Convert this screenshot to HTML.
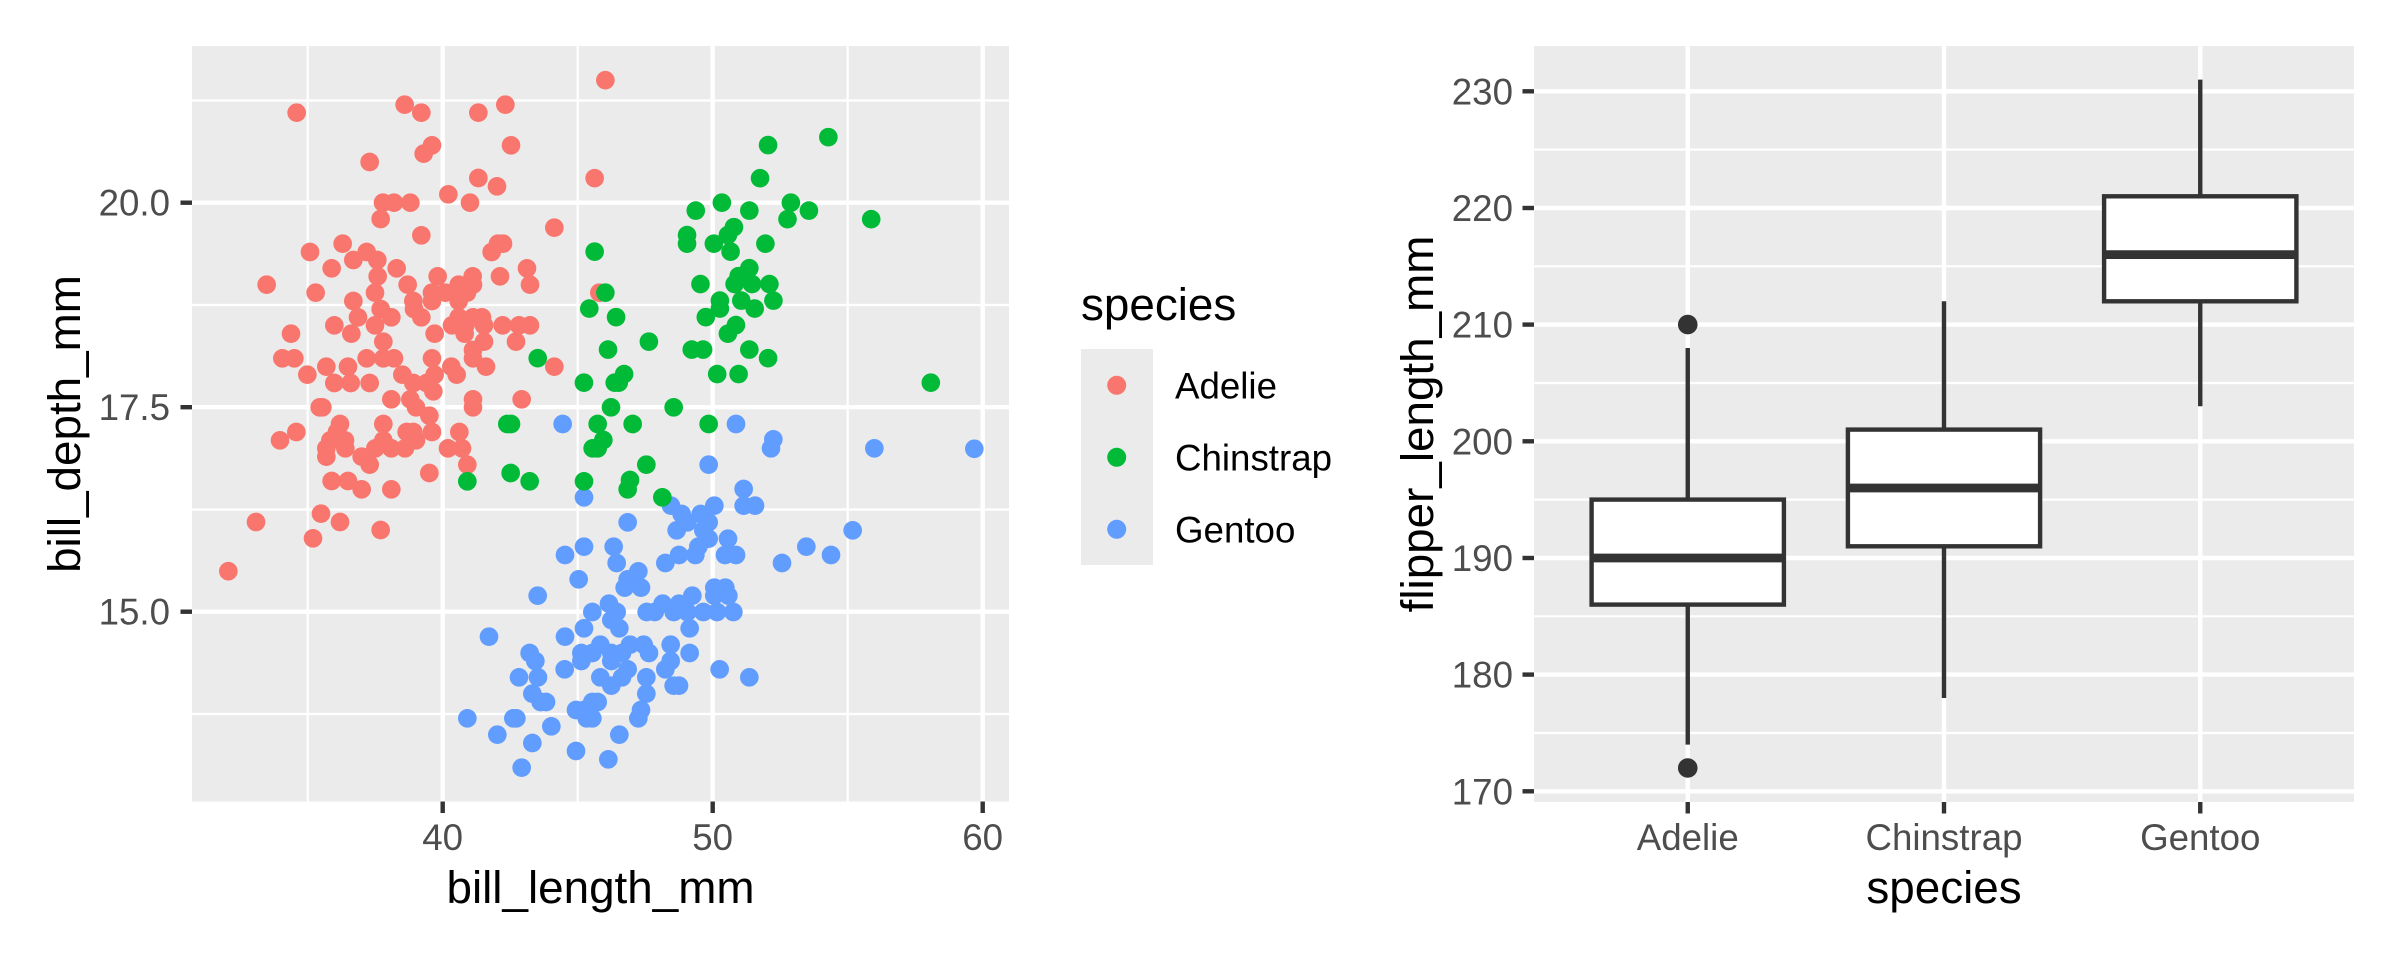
<!DOCTYPE html>
<html>
<head>
<meta charset="utf-8">
<style>
html,body{margin:0;padding:0;background:#ffffff;}
svg{display:block;}
text{font-family:"Liberation Sans",Arial,Helvetica,sans-serif;}
</style>
</head>
<body>
<svg xmlns="http://www.w3.org/2000/svg" width="2400" height="960" viewBox="0 0 2400 960">
<rect x="0" y="0" width="2400" height="960" fill="#ffffff"/>

<!-- ============ LEFT PANEL ============ -->
<rect x="192" y="46" width="817" height="755.5" fill="#EBEBEB"/>
<g stroke="#ffffff" stroke-width="2.2">
  <line x1="192" y1="100.5" x2="1009" y2="100.5"/>
  <line x1="192" y1="305" x2="1009" y2="305"/>
  <line x1="192" y1="509.5" x2="1009" y2="509.5"/>
  <line x1="192" y1="714" x2="1009" y2="714"/>
  <line x1="307.7" y1="46" x2="307.7" y2="801.5"/>
  <line x1="577.7" y1="46" x2="577.7" y2="801.5"/>
  <line x1="847.7" y1="46" x2="847.7" y2="801.5"/>
</g>
<g stroke="#ffffff" stroke-width="4.4">
  <line x1="192" y1="202.7" x2="1009" y2="202.7"/>
  <line x1="192" y1="407.2" x2="1009" y2="407.2"/>
  <line x1="192" y1="611.7" x2="1009" y2="611.7"/>
  <line x1="442.7" y1="46" x2="442.7" y2="801.5"/>
  <line x1="712.7" y1="46" x2="712.7" y2="801.5"/>
  <line x1="982.7" y1="46" x2="982.7" y2="801.5"/>
</g>

<!-- Adelie points (red) -->
<g fill="#F8766D" transform="translate(192,46) scale(0.333333)">
<circle cx="314" cy="200" r="28"/><circle cx="638" cy="176" r="28"/><circle cx="688" cy="200" r="28"/><circle cx="859" cy="200" r="28"/><circle cx="940" cy="176" r="28"/>
<circle cx="720" cy="298" r="28"/><circle cx="695" cy="323" r="28"/><circle cx="957" cy="298" r="28"/><circle cx="533" cy="348" r="28"/><circle cx="859" cy="396" r="28"/>
<circle cx="915" cy="421" r="28"/><circle cx="769" cy="445" r="28"/><circle cx="834" cy="470" r="28"/><circle cx="573" cy="470" r="28"/><circle cx="606" cy="470" r="28"/>
<circle cx="655" cy="470" r="28"/><circle cx="566" cy="519" r="28"/><circle cx="1087" cy="545" r="28"/><circle cx="688" cy="568" r="28"/><circle cx="452" cy="593" r="28"/>
<circle cx="354" cy="618" r="28"/><circle cx="524" cy="618" r="28"/><circle cx="918" cy="593" r="28"/><circle cx="933" cy="593" r="28"/><circle cx="899" cy="618" r="28"/>
<circle cx="484" cy="642" r="28"/><circle cx="556" cy="642" r="28"/><circle cx="419" cy="667" r="28"/><circle cx="614" cy="667" r="28"/><circle cx="1005" cy="667" r="28"/>
<circle cx="224" cy="716" r="28"/><circle cx="557" cy="691" r="28"/><circle cx="737" cy="691" r="28"/><circle cx="842" cy="691" r="28"/><circle cx="924" cy="691" r="28"/>
<circle cx="1014" cy="716" r="28"/><circle cx="647" cy="716" r="28"/><circle cx="800" cy="716" r="28"/><circle cx="843" cy="716" r="28"/><circle cx="371" cy="740" r="28"/>
<circle cx="549" cy="740" r="28"/><circle cx="720" cy="740" r="28"/><circle cx="760" cy="740" r="28"/><circle cx="825" cy="740" r="28"/><circle cx="664" cy="765" r="28"/>
<circle cx="484" cy="765" r="28"/><circle cx="720" cy="765" r="28"/><circle cx="800" cy="765" r="28"/><circle cx="566" cy="789" r="28"/><circle cx="666" cy="789" r="28"/>
<circle cx="498" cy="814" r="28"/><circle cx="598" cy="814" r="28"/><circle cx="688" cy="814" r="28"/><circle cx="800" cy="814" r="28"/><circle cx="843" cy="814" r="28"/>
<circle cx="870" cy="814" r="28"/><circle cx="427" cy="838" r="28"/><circle cx="549" cy="838" r="28"/><circle cx="780" cy="838" r="28"/><circle cx="820" cy="838" r="28"/>
<circle cx="876" cy="838" r="28"/><circle cx="932" cy="838" r="28"/><circle cx="981" cy="838" r="28"/><circle cx="1014" cy="838" r="28"/><circle cx="297" cy="863" r="28"/>
<circle cx="478" cy="863" r="28"/><circle cx="728" cy="863" r="28"/><circle cx="818" cy="863" r="28"/><circle cx="574" cy="887" r="28"/><circle cx="876" cy="887" r="28"/>
<circle cx="972" cy="887" r="28"/><circle cx="843" cy="912" r="28"/><circle cx="271" cy="937" r="28"/><circle cx="307" cy="937" r="28"/><circle cx="524" cy="937" r="28"/>
<circle cx="574" cy="937" r="28"/><circle cx="606" cy="937" r="28"/><circle cx="720" cy="937" r="28"/><circle cx="843" cy="937" r="28"/><circle cx="403" cy="962" r="28"/>
<circle cx="468" cy="962" r="28"/><circle cx="778" cy="962" r="28"/><circle cx="882" cy="962" r="28"/><circle cx="1087" cy="962" r="28"/><circle cx="346" cy="986" r="28"/>
<circle cx="631" cy="986" r="28"/><circle cx="728" cy="986" r="28"/><circle cx="794" cy="986" r="28"/><circle cx="427" cy="1011" r="28"/><circle cx="476" cy="1011" r="28"/>
<circle cx="533" cy="1011" r="28"/><circle cx="664" cy="1011" r="28"/><circle cx="704" cy="1011" r="28"/><circle cx="724" cy="1036" r="28"/><circle cx="598" cy="1060" r="28"/>
<circle cx="655" cy="1060" r="28"/><circle cx="843" cy="1060" r="28"/><circle cx="989" cy="1060" r="28"/><circle cx="391" cy="1084" r="28"/><circle cx="383" cy="1084" r="28"/>
<circle cx="843" cy="1084" r="28"/><circle cx="672" cy="1084" r="28"/><circle cx="712" cy="1109" r="28"/><circle cx="444" cy="1134" r="28"/><circle cx="574" cy="1134" r="28"/>
<circle cx="313" cy="1158" r="28"/><circle cx="264" cy="1183" r="28"/><circle cx="435" cy="1158" r="28"/><circle cx="459" cy="1183" r="28"/><circle cx="415" cy="1183" r="28"/>
<circle cx="644" cy="1158" r="28"/><circle cx="664" cy="1158" r="28"/><circle cx="720" cy="1158" r="28"/><circle cx="802" cy="1158" r="28"/><circle cx="574" cy="1183" r="28"/>
<circle cx="672" cy="1183" r="28"/><circle cx="403" cy="1207" r="28"/><circle cx="460" cy="1207" r="28"/><circle cx="550" cy="1207" r="28"/><circle cx="598" cy="1207" r="28"/>
<circle cx="639" cy="1207" r="28"/><circle cx="768" cy="1207" r="28"/><circle cx="810" cy="1207" r="28"/><circle cx="403" cy="1232" r="28"/><circle cx="509" cy="1232" r="28"/>
<circle cx="533" cy="1256" r="28"/><circle cx="826" cy="1256" r="28"/><circle cx="712" cy="1281" r="28"/><circle cx="419" cy="1305" r="28"/><circle cx="468" cy="1305" r="28"/>
<circle cx="509" cy="1330" r="28"/><circle cx="598" cy="1330" r="28"/><circle cx="387" cy="1403" r="28"/><circle cx="192" cy="1428" r="28"/><circle cx="444" cy="1428" r="28"/>
<circle cx="566" cy="1452" r="28"/><circle cx="363" cy="1477" r="28"/>
</g>
<g fill="#F8766D" transform="scale(0.669643,0.612245)">
<ellipse cx="904" cy="131" rx="13.9" ry="15.2"/>
<ellipse cx="888" cy="291" rx="13.9" ry="15.2"/>
<ellipse cx="895" cy="478" rx="13.9" ry="15.2"/>
<ellipse cx="341" cy="933" rx="13.9" ry="15.2"/>
</g>

<!-- Gentoo points (blue) -->
<g fill="#619CFF" transform="translate(430,400) scale(0.333333)">
<circle cx="398" cy="72" r="28"/><circle cx="918" cy="72" r="28"/><circle cx="1030" cy="118" r="28"/><circle cx="1023" cy="145" r="28"/><circle cx="1333" cy="145" r="28"/>
<circle cx="836" cy="194" r="28"/><circle cx="941" cy="267" r="28"/><circle cx="941" cy="317" r="28"/><circle cx="975" cy="317" r="28"/><circle cx="853" cy="317" r="28"/>
<circle cx="462" cy="292" r="28"/><circle cx="723" cy="317" r="28"/><circle cx="755" cy="342" r="28"/><circle cx="812" cy="342" r="28"/><circle cx="836" cy="367" r="28"/>
<circle cx="593" cy="367" r="28"/><circle cx="740" cy="391" r="28"/><circle cx="772" cy="367" r="28"/><circle cx="820" cy="391" r="28"/><circle cx="836" cy="416" r="28"/>
<circle cx="894" cy="416" r="28"/><circle cx="1268" cy="391" r="28"/><circle cx="462" cy="440" r="28"/><circle cx="551" cy="440" r="28"/><circle cx="405" cy="465" r="28"/>
<circle cx="1129" cy="440" r="28"/><circle cx="1203" cy="465" r="28"/><circle cx="1056" cy="489" r="28"/><circle cx="560" cy="489" r="28"/><circle cx="747" cy="465" r="28"/>
<circle cx="796" cy="465" r="28"/><circle cx="805" cy="440" r="28"/><circle cx="885" cy="465" r="28"/><circle cx="918" cy="465" r="28"/><circle cx="706" cy="489" r="28"/>
<circle cx="625" cy="514" r="28"/><circle cx="593" cy="538" r="28"/><circle cx="446" cy="538" r="28"/><circle cx="584" cy="563" r="28"/><circle cx="633" cy="563" r="28"/>
<circle cx="323" cy="587" r="28"/><circle cx="853" cy="563" r="28"/><circle cx="886" cy="563" r="28"/><circle cx="853" cy="587" r="28"/><circle cx="895" cy="587" r="28"/>
<circle cx="787" cy="587" r="28"/><circle cx="537" cy="611" r="28"/><circle cx="487" cy="636" r="28"/><circle cx="560" cy="636" r="28"/><circle cx="650" cy="636" r="28"/>
<circle cx="674" cy="636" r="28"/><circle cx="698" cy="611" r="28"/><circle cx="731" cy="636" r="28"/><circle cx="747" cy="611" r="28"/><circle cx="772" cy="636" r="28"/>
<circle cx="820" cy="636" r="28"/><circle cx="861" cy="636" r="28"/><circle cx="910" cy="636" r="28"/><circle cx="544" cy="660" r="28"/><circle cx="568" cy="685" r="28"/>
<circle cx="462" cy="685" r="28"/><circle cx="779" cy="685" r="28"/><circle cx="177" cy="710" r="28"/><circle cx="405" cy="710" r="28"/><circle cx="511" cy="734" r="28"/>
<circle cx="600" cy="734" r="28"/><circle cx="641" cy="734" r="28"/><circle cx="722" cy="734" r="28"/><circle cx="454" cy="759" r="28"/><circle cx="487" cy="759" r="28"/>
<circle cx="544" cy="759" r="28"/><circle cx="576" cy="759" r="28"/><circle cx="657" cy="759" r="28"/><circle cx="779" cy="759" r="28"/><circle cx="299" cy="759" r="28"/>
<circle cx="316" cy="783" r="28"/><circle cx="454" cy="783" r="28"/><circle cx="544" cy="783" r="28"/><circle cx="722" cy="783" r="28"/><circle cx="404" cy="808" r="28"/>
<circle cx="593" cy="808" r="28"/><circle cx="706" cy="808" r="28"/><circle cx="869" cy="808" r="28"/><circle cx="267" cy="832" r="28"/><circle cx="324" cy="832" r="28"/>
<circle cx="511" cy="832" r="28"/><circle cx="576" cy="832" r="28"/><circle cx="649" cy="832" r="28"/><circle cx="958" cy="832" r="28"/><circle cx="544" cy="857" r="28"/>
<circle cx="731" cy="857" r="28"/><circle cx="747" cy="857" r="28"/><circle cx="307" cy="881" r="28"/><circle cx="649" cy="881" r="28"/><circle cx="332" cy="906" r="28"/>
<circle cx="348" cy="906" r="28"/><circle cx="487" cy="906" r="28"/><circle cx="503" cy="906" r="28"/><circle cx="633" cy="930" r="28"/><circle cx="438" cy="930" r="28"/>
<circle cx="462" cy="930" r="28"/><circle cx="112" cy="955" r="28"/><circle cx="250" cy="955" r="28"/><circle cx="259" cy="955" r="28"/><circle cx="470" cy="955" r="28"/>
<circle cx="487" cy="955" r="28"/><circle cx="625" cy="955" r="28"/><circle cx="202" cy="1004" r="28"/><circle cx="364" cy="979" r="28"/><circle cx="568" cy="1004" r="28"/>
<circle cx="307" cy="1029" r="28"/><circle cx="438" cy="1053" r="28"/><circle cx="535" cy="1078" r="28"/><circle cx="275" cy="1103" r="28"/>
</g>
<g fill="#619CFF" transform="scale(0.669643,0.612245)">
<ellipse cx="1455" cy="733" rx="13.9" ry="15.2"/>
</g>

<!-- Chinstrap points (green) -->
<g fill="#00BA38" transform="scale(0.669643,0.612245)">
<ellipse cx="1237" cy="224" rx="13.9" ry="15.2"/><ellipse cx="1147" cy="237" rx="13.9" ry="15.2"/><ellipse cx="1135" cy="291" rx="13.9" ry="15.2"/>
<ellipse cx="1078" cy="331" rx="13.9" ry="15.2"/><ellipse cx="1181" cy="331" rx="13.9" ry="15.2"/><ellipse cx="1039" cy="344" rx="13.9" ry="15.2"/>
<ellipse cx="1119" cy="344" rx="13.9" ry="15.2"/><ellipse cx="1208" cy="344" rx="13.9" ry="15.2"/><ellipse cx="1176" cy="358" rx="13.9" ry="15.2"/>
<ellipse cx="1301" cy="358" rx="13.9" ry="15.2"/><ellipse cx="1096" cy="371" rx="13.9" ry="15.2"/><ellipse cx="1087" cy="384" rx="13.9" ry="15.2"/>
<ellipse cx="1026" cy="384" rx="13.9" ry="15.2"/><ellipse cx="1026" cy="398" rx="13.9" ry="15.2"/><ellipse cx="1066" cy="398" rx="13.9" ry="15.2"/>
<ellipse cx="1143" cy="398" rx="13.9" ry="15.2"/><ellipse cx="1091" cy="411" rx="13.9" ry="15.2"/><ellipse cx="888" cy="411" rx="13.9" ry="15.2"/>
<ellipse cx="1119" cy="438" rx="13.9" ry="15.2"/><ellipse cx="1103" cy="451" rx="13.9" ry="15.2"/><ellipse cx="1046" cy="464" rx="13.9" ry="15.2"/>
<ellipse cx="1097" cy="464" rx="13.9" ry="15.2"/><ellipse cx="1123" cy="464" rx="13.9" ry="15.2"/><ellipse cx="1149" cy="464" rx="13.9" ry="15.2"/>
<ellipse cx="904" cy="478" rx="13.9" ry="15.2"/><ellipse cx="1075" cy="491" rx="13.9" ry="15.2"/><ellipse cx="1107" cy="491" rx="13.9" ry="15.2"/>
<ellipse cx="1155" cy="491" rx="13.9" ry="15.2"/><ellipse cx="880" cy="504" rx="13.9" ry="15.2"/><ellipse cx="1075" cy="504" rx="13.9" ry="15.2"/>
<ellipse cx="1127" cy="504" rx="13.9" ry="15.2"/><ellipse cx="920" cy="518" rx="13.9" ry="15.2"/><ellipse cx="1054" cy="518" rx="13.9" ry="15.2"/>
<ellipse cx="1099" cy="531" rx="13.9" ry="15.2"/><ellipse cx="1087" cy="545" rx="13.9" ry="15.2"/><ellipse cx="969" cy="558" rx="13.9" ry="15.2"/>
<ellipse cx="908" cy="571" rx="13.9" ry="15.2"/><ellipse cx="1033" cy="571" rx="13.9" ry="15.2"/><ellipse cx="1050" cy="571" rx="13.9" ry="15.2"/>
<ellipse cx="1119" cy="571" rx="13.9" ry="15.2"/><ellipse cx="803" cy="585" rx="13.9" ry="15.2"/><ellipse cx="1147" cy="585" rx="13.9" ry="15.2"/>
<ellipse cx="1071" cy="611" rx="13.9" ry="15.2"/><ellipse cx="1103" cy="611" rx="13.9" ry="15.2"/><ellipse cx="932" cy="611" rx="13.9" ry="15.2"/>
<ellipse cx="924" cy="625" rx="13.9" ry="15.2"/><ellipse cx="918" cy="625" rx="13.9" ry="15.2"/><ellipse cx="872" cy="625" rx="13.9" ry="15.2"/>
<ellipse cx="1390" cy="625" rx="13.9" ry="15.2"/>
</g>
<g fill="#00BA38" transform="translate(430,400) scale(0.333333)">
<circle cx="543" cy="22" r="28"/><circle cx="731" cy="22" r="28"/><circle cx="232" cy="72" r="28"/><circle cx="243" cy="72" r="28"/>
<circle cx="503" cy="72" r="28"/><circle cx="608" cy="72" r="28"/><circle cx="836" cy="72" r="28"/><circle cx="520" cy="120" r="28"/>
<circle cx="488" cy="145" r="28"/><circle cx="503" cy="145" r="28"/><circle cx="649" cy="194" r="28"/><circle cx="242" cy="219" r="28"/>
<circle cx="112" cy="244" r="28"/><circle cx="299" cy="244" r="28"/><circle cx="462" cy="244" r="28"/><circle cx="600" cy="240" r="28"/>
<circle cx="593" cy="268" r="28"/><circle cx="697" cy="292" r="28"/>
</g>

<!-- Left axes ticks -->
<g stroke="#333333" stroke-width="4.4">
  <line x1="180.5" y1="202.7" x2="192" y2="202.7"/>
  <line x1="180.5" y1="407.2" x2="192" y2="407.2"/>
  <line x1="180.5" y1="611.7" x2="192" y2="611.7"/>
  <line x1="442.7" y1="801.5" x2="442.7" y2="813"/>
  <line x1="712.7" y1="801.5" x2="712.7" y2="813"/>
  <line x1="982.7" y1="801.5" x2="982.7" y2="813"/>
</g>
<g fill="#4D4D4D" font-size="36.7" text-anchor="end">
  <text x="170" y="215.7">20.0</text>
  <text x="170" y="420.2">17.5</text>
  <text x="170" y="624.7">15.0</text>
</g>
<g fill="#4D4D4D" font-size="36.7" text-anchor="middle">
  <text x="442.7" y="850">40</text>
  <text x="712.7" y="850">50</text>
  <text x="982.7" y="850">60</text>
</g>
<text x="600.5" y="903" font-size="45.8" fill="#000000" text-anchor="middle">bill_length_mm</text>
<text transform="translate(80,424) rotate(-90)" x="0" y="0" font-size="45.8" fill="#000000" text-anchor="middle">bill_depth_mm</text>

<!-- Legend -->
<text x="1081" y="320" font-size="45.8" fill="#000000">species</text>
<rect x="1081" y="349" width="72" height="216" fill="#EBEBEB"/>
<circle cx="1116.7" cy="385.3" r="9.5" fill="#F8766D"/>
<circle cx="1116.7" cy="457.3" r="9.5" fill="#00BA38"/>
<circle cx="1116.7" cy="529.3" r="9.5" fill="#619CFF"/>
<g font-size="36.7" fill="#000000">
  <text x="1175" y="398.7">Adelie</text>
  <text x="1175" y="470.7">Chinstrap</text>
  <text x="1175" y="542.7">Gentoo</text>
</g>

<!-- ============ RIGHT PANEL ============ -->
<rect x="1534" y="46" width="820" height="756" fill="#EBEBEB"/>
<g stroke="#ffffff" stroke-width="2.2">
  <line x1="1534" y1="149.6" x2="2354" y2="149.6"/>
  <line x1="1534" y1="266.3" x2="2354" y2="266.3"/>
  <line x1="1534" y1="383.0" x2="2354" y2="383.0"/>
  <line x1="1534" y1="499.6" x2="2354" y2="499.6"/>
  <line x1="1534" y1="616.3" x2="2354" y2="616.3"/>
  <line x1="1534" y1="733.0" x2="2354" y2="733.0"/>
</g>
<g stroke="#ffffff" stroke-width="4.4">
  <line x1="1534" y1="91.3" x2="2354" y2="91.3"/>
  <line x1="1534" y1="208.0" x2="2354" y2="208.0"/>
  <line x1="1534" y1="324.6" x2="2354" y2="324.6"/>
  <line x1="1534" y1="441.3" x2="2354" y2="441.3"/>
  <line x1="1534" y1="558.0" x2="2354" y2="558.0"/>
  <line x1="1534" y1="674.6" x2="2354" y2="674.6"/>
  <line x1="1534" y1="791.3" x2="2354" y2="791.3"/>
  <line x1="1687.75" y1="46" x2="1687.75" y2="802"/>
  <line x1="1944" y1="46" x2="1944" y2="802"/>
  <line x1="2200.25" y1="46" x2="2200.25" y2="802"/>
</g>

<!-- Boxplots -->
<g stroke="#333333" stroke-width="4.4" fill="none">
  <line x1="1687.75" y1="499.6" x2="1687.75" y2="348.0"/>
  <line x1="1687.75" y1="604.6" x2="1687.75" y2="744.6"/>
  <line x1="1944" y1="429.6" x2="1944" y2="301.3"/>
  <line x1="1944" y1="546.3" x2="1944" y2="698.0"/>
  <line x1="2200.25" y1="196.3" x2="2200.25" y2="79.6"/>
  <line x1="2200.25" y1="301.3" x2="2200.25" y2="406.3"/>
</g>
<g stroke="#333333" stroke-width="4.4" fill="#ffffff">
  <rect x="1591.6" y="499.6" width="192.3" height="105.0"/>
  <rect x="1847.9" y="429.6" width="192.2" height="116.7"/>
  <rect x="2104.1" y="196.3" width="192.3" height="105.0"/>
</g>
<g stroke="#333333" stroke-width="8.8">
  <line x1="1591.6" y1="558.0" x2="1783.9" y2="558.0"/>
  <line x1="1847.9" y1="488.0" x2="2040.1" y2="488.0"/>
  <line x1="2104.1" y1="254.6" x2="2296.4" y2="254.6"/>
</g>
<circle cx="1687.75" cy="324.6" r="9.8" fill="#333333"/>
<circle cx="1687.75" cy="768.0" r="9.8" fill="#333333"/>

<!-- Right axes ticks -->
<g stroke="#333333" stroke-width="4.4">
  <line x1="1522.5" y1="91.3" x2="1534" y2="91.3"/>
  <line x1="1522.5" y1="208.0" x2="1534" y2="208.0"/>
  <line x1="1522.5" y1="324.6" x2="1534" y2="324.6"/>
  <line x1="1522.5" y1="441.3" x2="1534" y2="441.3"/>
  <line x1="1522.5" y1="558.0" x2="1534" y2="558.0"/>
  <line x1="1522.5" y1="674.6" x2="1534" y2="674.6"/>
  <line x1="1522.5" y1="791.3" x2="1534" y2="791.3"/>
  <line x1="1687.75" y1="802" x2="1687.75" y2="813.5"/>
  <line x1="1944" y1="802" x2="1944" y2="813.5"/>
  <line x1="2200.25" y1="802" x2="2200.25" y2="813.5"/>
</g>
<g fill="#4D4D4D" font-size="36.7" text-anchor="end">
  <text x="1513" y="104.3">230</text>
  <text x="1513" y="221.0">220</text>
  <text x="1513" y="337.6">210</text>
  <text x="1513" y="454.3">200</text>
  <text x="1513" y="571.0">190</text>
  <text x="1513" y="687.6">180</text>
  <text x="1513" y="804.3">170</text>
</g>
<g fill="#4D4D4D" font-size="36.7" text-anchor="middle">
  <text x="1687.75" y="850">Adelie</text>
  <text x="1944" y="850">Chinstrap</text>
  <text x="2200.25" y="850">Gentoo</text>
</g>
<text x="1944" y="903" font-size="45.8" fill="#000000" text-anchor="middle">species</text>
<text transform="translate(1433,424) rotate(-90)" x="0" y="0" font-size="45.8" fill="#000000" text-anchor="middle">flipper_length_mm</text>
</svg>
</body>
</html>
